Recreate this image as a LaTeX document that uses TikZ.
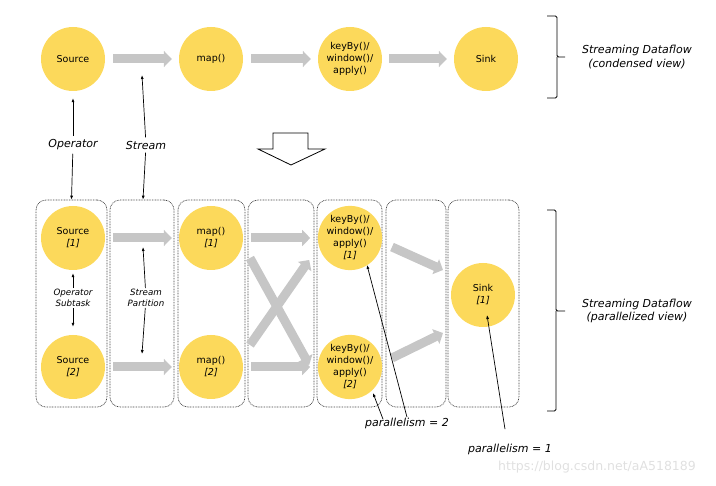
\documentclass[tikz,border=0pt]{standalone}
\usepackage{fontspec}
\setmainfont{DejaVu Sans}
\usepackage{tikz}
\usetikzlibrary{arrows.meta}
\definecolor{opyellow}{HTML}{FCD95B}
\definecolor{flowgray}{HTML}{C6C6C6}

\begin{document}
\begin{tikzpicture}[x=1pt,y=-1pt,
    op/.style={circle,fill=opyellow,minimum size=64pt,inner sep=0pt,align=center,
      font=\fontsize{9.5}{12}\selectfont},
    flow/.style={draw=flowgray,line width=9pt,-{Triangle[width=16pt,length=8pt]}},
    group/.style={draw=black!75,dash pattern=on 0.8pt off 0.8pt,line width=0.7pt,
      rounded corners=10pt,minimum height=207pt,inner sep=0pt},
    lbl/.style={font=\fontsize{11}{13.5}\selectfont\itshape,align=center},
    small/.style={font=\fontsize{8.7}{11}\selectfont\itshape,align=center,inner sep=1pt},
    pt/.style={-{Latex[length=4pt,width=3pt]},line width=0.7pt}]

    \useasboundingbox (0,0) rectangle (716,486);

    % condensed view
    \node[op] (src) at (73,59) {Source};
    \node[op] (map) at (211,59) {map()};
    \node[op] (key) at (350,59) {keyBy()/\\window()/\\apply()};
    \node[op] (snk) at (486,59) {Sink};
    \draw[flow] ([xshift=8pt]src.east) -- ([xshift=-7pt]map.west);
    \draw[flow] ([xshift=8pt]map.east) -- ([xshift=-7pt]key.west);
    \draw[flow] ([xshift=7pt]key.east) -- ([xshift=-7pt]snk.west);

    \draw[line width=0.8pt,rounded corners=1.5pt] (547,16) -- (557,16) -- (557,57) -- (565,57)
      (557,57) -- (557,98) -- (547,98);
    \node[lbl] (cv) at (637,57) {Streaming Dataflow\\(condensed view)};

    % the big arrow
    \draw[line width=0.8pt] (273,133) -- (308,133) -- (308,149) -- (325,149) -- (291,165)
      -- (258,149) -- (273,149) -- cycle;

    % parallelized view
    \foreach \n/\x/\w in {b1/71.5/71,b2/142/64,b3/211.5/67,b4/281/66,b5/349.5/65,b6/416/60,b7/483.5/71}
      \node[group,minimum width=\w pt] (\n) at (\x,303.5) {};

    \node[op] (srca) at (73,238) {Source\\\textit{[1]}};
    \node[op] (srcb) at (73,367) {Source\\\textit{[2]}};
    \node[op] (mapa) at (211,238) {map()\\\textit{[1]}};
    \node[op] (mapb) at (211,367) {map()\\\textit{[2]}};

    \draw[flow] ([xshift=8pt]srca.east) -- ([xshift=-7pt]mapa.west);
    \draw[flow] ([xshift=8pt]srcb.east) -- ([xshift=-7pt]mapb.west);
    \draw[flow] ([xshift=8pt]mapa.east) -- ++(59,0) coordinate (ka);
    \draw[flow] ([xshift=8pt]mapb.east) -- ++(59,0) coordinate (kb);
    \draw[flow] ([shift={(39,20)}]mapa.center) -- ([shift={(66,-2)}]mapb.east);
    \draw[flow] ([shift={(39,-22)}]mapb.center) -- ([shift={(66,22)}]mapa.east);

    \node[op] (keya) at (350,238) {keyBy()/\\window()/\\apply()\\\textit{[1]}};
    \node[op] (keyb) at (350,367) {keyBy()/\\window()/\\apply()\\\textit{[2]}};
    \node[op] (snka) at (483,295) {Sink\\\textit{[1]}};

    \draw[flow] ([shift={(42,9)}]keya.center) -- ([shift={(-40,-25)}]snka.center);
    \draw[flow] ([shift={(42,-9)}]keyb.center) -- ([shift={(-40,38)}]snka.center);

    \draw[line width=0.8pt,rounded corners=1.5pt] (547,210) -- (556,210) -- (556,311) -- (565,311)
      (556,311) -- (556,411) -- (547,411);
    \node[lbl] (pv) at (637,311) {Streaming Dataflow\\(parallelized view)};

    % labels
    \node[lbl] (opr) at (73,145) {Operator};
    \draw[pt] (opr) -- ([yshift=-7pt]src.south);
    \draw[pt] (opr) -- (b1.north);
    \node[lbl] (str) at (146,145) {Stream};
    \draw[pt] (str) -- ([shift={(69,16)}]src.center);
    \draw[pt] (str) -- ([xshift=1pt]b2.north);

    \node[small] (sub) at (73,298) {Operator\\Subtask};
    \draw[pt] (sub) -- ([yshift=-3pt]srca.south);
    \draw[pt] (sub) -- ([yshift=8pt]srcb.north);
    \node[small] (part) at (146,298) {Stream\\Partition};
    \draw[pt] (part) -- ([shift={(-68,9)}]mapa.center);
    \draw[pt] (part) -- ([shift={(-69,-13)}]mapb.center);

    \node[lbl] (p2) at (407,423) {parallelism = 2};
    \draw[pt] ([shift={(-24,5)}]p2.north) -- ([shift={(23,26)}]keyb.center);
    \draw[pt] ([shift={(0,3)}]p2.north) -- ([shift={(17,27)}]keya.center);
    \node[lbl] (p1) at (510,449) {parallelism = 1};
    \draw[pt] ([shift={(-5,-11)}]p1.north) -- ([shift={(4,20)}]snka.center);

    \node[font=\fontsize{12.5}{14}\selectfont,text=black!12] (wm) at (597,467) {https://blog.csdn.net/aA518189};

\end{tikzpicture}
\end{document}
